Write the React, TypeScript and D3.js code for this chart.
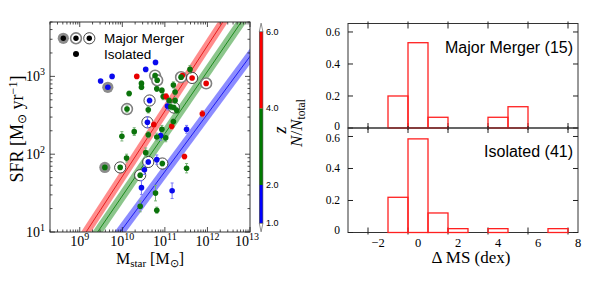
import React from "react";
import * as d3 from "d3";

// isolated galaxies: log10 stellar mass, log10 SFR, SFR error (dex), redshift
const isoLogM = [9.49, 9.76, 10.78, 10.55, 10.34, 10.45, 10.45, 10.16, 10.61, 10.61, 10.28, 9.99, 10.81, 10.93, 10.96, 11.06, 11.14, 11.2, 11.24, 11.41, 11.59, 11.88, 11.51, 11.16, 11.2, 10.93, 10.9, 10.81, 10.74, 11.02, 10.55, 10.1, 10.81, 10.52, 11.46, 11.51, 10.45, 10.78, 11.17, 10.42, 10.81, 11.03, 11.1, 11.24, 11.28];
const isoLogSfr = [2.94, 3.0, 3.18, 3.09, 3.0, 2.91, 2.86, 2.78, 2.57, 2.25, 2.29, 2.23, 2.84, 2.82, 2.74, 2.62, 2.61, 2.89, 2.8, 3.01, 3.09, 2.52, 2.32, 2.36, 2.42, 2.32, 2.24, 2.22, 2.38, 2.21, 2.02, 1.95, 1.93, 1.8, 1.97, 1.82, 1.57, 1.5, 1.53, 1.33, 1.28, 2.74, 2.69, 2.69, 2.56];
const isoErr = [0, 0, 0, 0, 0, 0.03, 0.03, 0.03, 0.04, 0.04, 0.05, 0.06, 0.03, 0.03, 0.04, 0.05, 0.04, 0.04, 0.04, 0.03, 0.05, 0.04, 0.05, 0.04, 0.04, 0.05, 0.06, 0.05, 0.04, 0.05, 0.06, 0.05, 0.06, 0.06, 0.03, 0.06, 0.09, 0.1, 0.1, 0.07, 0.04, 0.04, 0.04, 0.04, 0.04];
const isoZ = [1.6, 1.7, 1.5, 1.8, 4.6, 2.9, 3.1, 2.6, 3.3, 2.4, 2.7, 3.5, 2.8, 3.0, 2.5, 1.9, 3.2, 2.9, 3.4, 4.4, 3.6, 4.8, 1.7, 4.3, 2.6, 3.1, 1.8, 2.3, 4.5, 2.8, 2.2, 2.9, 1.6, 1.5, 4.2, 2.7, 1.4, 2.4, 1.6, 2.2, 2.1, 4.7, 3.0, 3.3, 2.6];

// major mergers: style A = grey disk, B = grey ring, C = black ring
const mrgLogM = [9.66, 10.11, 10.64, 10.59, 10.77, 10.82, 11.38, 11.64, 11.97, 9.59, 9.95, 10.61, 10.94, 10.42, 11.21];
const mrgLogSfr = [2.86, 2.58, 2.69, 2.41, 3.01, 2.95, 2.99, 2.98, 2.91, 1.83, 1.83, 1.9, 1.88, 1.73, 2.6];
const mrgErr = [0, 0.04, 0.03, 0.07, 0.03, 0.03, 0.03, 0.02, 0.02, 0.03, 0.02, 0.03, 0.03, 0.03, 0.03];
const mrgZ = [1.7, 2.6, 1.8, 1.6, 3.2, 2.8, 3.5, 4.6, 5.1, 2.4, 2.3, 1.5, 2.7, 2.5, 3.0];
const mrgStyle = ["A", "B", "C", "C", "B", "B", "B", "C", "B", "A", "C", "C", "C", "C", "C"];

// main sequence relations (red, green, blue): log SFR = slope * log M + intercept
const msSlope = [0.84, 0.8, 0.74];
const msIntercept = [-6.686, -6.536, -6.363];
const msColors = ["#e00000", "#007a00", "#0000ee"];
const msBand = ["#ff8080", "#7fc07f", "#7f7fff"];

// colorbar
const cbBounds = [1, 2, 4, 6];
const cbColors = ["#0000ff", "#007a00", "#ff0000"];
const cbLabels = ["1.0", "2.0", "4.0", "6.0"];

// histograms of Delta MS
const binCenters = [-3, -2, -1, 0, 1, 2, 3, 4, 5, 6, 7];
const mergerFrac = [0, 0, 0.2, 0.533, 0.067, 0, 0, 0.067, 0.133, 0, 0];
const isolatedFrac = [0, 0, 0.22, 0.585, 0.122, 0.024, 0, 0.024, 0, 0, 0.024];
const histTicks = [-2.5, -0.5, 1.5, 3.5, 5.5, 7.5];
const histLabels = [-2, 0, 2, 4, 6, 8];
const fracTicks = [0, 0.2, 0.4, 0.6];

const serif = "Liberation Serif, Times New Roman, serif";
const sans = "Liberation Sans, Arial, sans-serif";

const App = () => {
  const x = d3.scaleLog().domain([2e8, 1e13]).range([50, 250]);
  const y = d3.scaleLog().domain([10, 5000]).range([232, 22]);
  const zColor = d3.scaleThreshold<number, string>().domain([2, 4]).range(["#0a0aee", "#0b730b", "#e80000"]);
  const errColor = (z: number) => d3.interpolateRgb(zColor(z), "white")(0.45);

  const hx = d3.scaleLinear().domain([-3.5, 8]).range([348, 578]);
  const topY = d3.scaleLinear().domain([0, 0.653]).range([128, 23.5]);
  const botY = d3.scaleLinear().domain([0, 0.653]).range([232.5, 128]);
  const cb = d3.scaleLinear().domain(cbBounds).range([223.3, 185, 108.3, 31.7]);

  const [x0, x1] = x.range();
  const [y1, y0] = y.range();

  const logTicks = (lo: number, hi: number, dom: number[]) =>
    d3.range(lo, hi).flatMap(e => d3.range(1, 10).map(k => ({ v: k * 10 ** e, major: k === 1 })))
      .filter(t => t.v >= dom[0] && t.v <= dom[1]);
  const xt = logTicks(8, 14, x.domain());
  const yt = logTicks(1, 4, y.domain());

  const msX = [8, 13.5];
  const halfWidth = 0.1;
  const band = (i: number) =>
    d3.area<number>()
      .x(m => x(10 ** m))
      .y0(m => y(10 ** (msSlope[i] * m + msIntercept[i] - halfWidth)))
      .y1(m => y(10 ** (msSlope[i] * m + msIntercept[i] + halfWidth)))(msX);
  const msLine = (i: number) =>
    d3.line<number>().x(m => x(10 ** m)).y(m => y(10 ** (msSlope[i] * m + msIntercept[i])))(msX);

  const errBar = (m: number, s: number, e: number, z: number, key: string) => {
    if (!e) return null;
    const px = x(10 ** m);
    const c = errColor(z);
    return (
      <g key={key} stroke={c} strokeWidth={1}>
        <line x1={px} x2={px} y1={y(10 ** (s - e))} y2={y(10 ** (s + e))} />
        <line x1={px - 1.5} x2={px + 1.5} y1={y(10 ** (s - e))} y2={y(10 ** (s - e))} />
        <line x1={px - 1.5} x2={px + 1.5} y1={y(10 ** (s + e))} y2={y(10 ** (s + e))} />
      </g>
    );
  };

  const ring = (style: string, cx: number, cy: number, key: string) => {
    if (style === "A") return <circle key={key} cx={cx} cy={cy} r={5.6} fill="#8c8c8c" />;
    if (style === "B") return <circle key={key} cx={cx} cy={cy} r={5.4} fill="white" stroke="#808080" strokeWidth={1.6} />;
    return <circle key={key} cx={cx} cy={cy} r={5.6} fill="white" stroke="#1a1a1a" strokeWidth={0.8} />;
  };

  const histPanel = (frac: number[], ys: d3.ScaleLinear<number, number>, label: string, labelY: number, key: string, bottom: boolean) => {
    const [pb, pt] = ys.range();
    // nudge the two labels that meet at the shared edge apart a little
    const nudge = (t: number) => (bottom ? (t === 0 ? -3 : t === 0.6 ? 2 : 0) : t === 0 ? -2 : 0);
    return (
      <g key={key}>
        <rect x={hx(-3.5)} y={pt} width={hx(8) - hx(-3.5)} height={pb - pt} fill="none" stroke="#333" strokeWidth={1} />
        {histTicks.map(t => (
          <g key={t} stroke="#222" strokeWidth={1}>
            <line x1={hx(t)} x2={hx(t)} y1={pt - 2} y2={pt + 5} />
            <line x1={hx(t)} x2={hx(t)} y1={pb + 2} y2={pb - 5} />
          </g>
        ))}
        {fracTicks.map(t => (
          <g key={"f" + t}>
            <line x1={hx(-3.5)} x2={hx(-3.5) + 5} y1={ys(t)} y2={ys(t)} stroke="#222" />
            <line x1={hx(8)} x2={hx(8) - 5} y1={ys(t)} y2={ys(t)} stroke="#222" />
            <text x={340} y={ys(t) + nudge(t)} textAnchor="end" dominantBaseline="central"
              fontFamily={serif} fontSize={11.5}>{t === 0 ? "0" : t.toFixed(1)}</text>
          </g>
        ))}
        {binCenters.map((c, i) => (
          <rect key={"b" + i} x={hx(c - 0.5)} y={ys(frac[i])} width={hx(c + 0.5) - hx(c - 0.5)}
            height={ys(0) - ys(frac[i])} fill="none" stroke="#ff2020" strokeWidth={1.3} />
        ))}
        <text x={573} y={labelY} textAnchor="end" fontFamily={sans} fontSize={16}>{label}</text>
      </g>
    );
  };

  return (
    <svg width={598} height={288} style={{ position: "absolute", left: 0, top: 0, background: "white" }}>
      <defs>
        <clipPath id="left-clip">
          <rect x={x0} y={y0} width={x1 - x0} height={y1 - y0} />
        </clipPath>
      </defs>

      {/* main sequence bands */}
      <g clipPath="url(#left-clip)">
        {msSlope.map((_, i) => (
          <g key={"ms" + i}>
            <path d={band(i) || ""} fill={msBand[i]} opacity={0.9} />
            <path d={msLine(i) || ""} fill="none" stroke={msColors[i]} strokeWidth={0.8} />
          </g>
        ))}
      </g>

      {/* merger rings */}
      {mrgLogM.map((m, i) => ring(mrgStyle[i], x(10 ** m), y(10 ** mrgLogSfr[i]), "r" + i))}
      {/* error bars */}
      {isoLogM.map((m, i) => errBar(m, isoLogSfr[i], isoErr[i], isoZ[i], "ie" + i))}
      {mrgLogM.map((m, i) => errBar(m, mrgLogSfr[i], mrgErr[i], mrgZ[i], "me" + i))}
      {/* points */}
      {isoLogM.map((m, i) => (
        <circle key={"i" + i} cx={x(10 ** m)} cy={y(10 ** isoLogSfr[i])} r={2.8} fill={zColor(isoZ[i])} />
      ))}
      {mrgLogM.map((m, i) => (
        <circle key={"m" + i} cx={x(10 ** m)} cy={y(10 ** mrgLogSfr[i])} r={2.8} fill={zColor(mrgZ[i])} />
      ))}

      {/* left frame and ticks */}
      <rect x={x0} y={y0} width={x1 - x0} height={y1 - y0} fill="none" stroke="#333" strokeWidth={1} />
      {xt.map((t, i) => {
        const L = t.major ? 5 : 2.5;
        return (
          <g key={"xt" + i} stroke="#222" strokeWidth={0.8}>
            <line x1={x(t.v)} x2={x(t.v)} y1={y1} y2={y1 - L} />
            <line x1={x(t.v)} x2={x(t.v)} y1={y0} y2={y0 + L} />
          </g>
        );
      })}
      {yt.map((t, i) => {
        const L = t.major ? 5 : 2.5;
        return (
          <g key={"yt" + i} stroke="#222" strokeWidth={0.8}>
            <line x1={x0} x2={x0 + L} y1={y(t.v)} y2={y(t.v)} />
            <line x1={x1} x2={x1 - L} y1={y(t.v)} y2={y(t.v)} />
          </g>
        );
      })}
      {xt.filter(t => t.major).map(t => (
        <text key={"xl" + t.v} x={x(t.v) + (t.v === 1e13 ? -3 : 0)} y={246} textAnchor="middle" fontFamily={serif} fontSize={14}>
          10<tspan dy={-6} fontSize={10}>{Math.round(Math.log10(t.v))}</tspan>
        </text>
      ))}
      {yt.filter(t => t.major).map(t => (
        <text key={"yl" + t.v} x={45} y={y(t.v) + 4.5} textAnchor="end" fontFamily={serif} fontSize={14}>
          10<tspan dy={-6} fontSize={10}>{Math.round(Math.log10(t.v))}</tspan>
        </text>
      ))}

      {/* legend */}
      <circle cx={63.3} cy={38.3} r={5.6} fill="#8c8c8c" />
      <circle cx={63.3} cy={38.3} r={2.7} fill="black" />
      <circle cx={76} cy={38.3} r={5.4} fill="white" stroke="#808080" strokeWidth={1.6} />
      <circle cx={76} cy={38.3} r={2.7} fill="black" />
      <circle cx={89.3} cy={38.3} r={5.6} fill="white" stroke="#1a1a1a" strokeWidth={0.8} />
      <circle cx={89.3} cy={38.3} r={2.7} fill="black" />
      <circle cx={76} cy={54} r={3} fill="black" />
      <text x={104} y={43} fontFamily={sans} fontSize={13.5}>Major Merger</text>
      <text x={104} y={58.5} fontFamily={sans} fontSize={13.5}>Isolated</text>

      {/* axis labels */}
      <text x={150} y={264} textAnchor="middle" fontFamily={serif} fontSize={16}>
        M<tspan dy={3} fontSize={11}>star</tspan><tspan dy={-3}> [M</tspan><tspan dy={3} fontSize={11}>⊙</tspan><tspan dy={-3}>]</tspan>
      </text>
      <text transform="translate(23,129) rotate(-90)" textAnchor="middle" fontFamily={serif} fontSize={18}>
        SFR [M<tspan dy={3} fontSize={12}>⊙</tspan><tspan dy={-3}> yr</tspan><tspan dy={-6} fontSize={12}>−1</tspan><tspan dy={6}>]</tspan>
      </text>

      {/* colorbar */}
      {cbColors.map((c, i) => (
        <rect key={"cb" + i} x={259.3} y={cb(cbBounds[i + 1])} width={3.6} height={cb(cbBounds[i]) - cb(cbBounds[i + 1])} fill={c} />
      ))}
      <rect x={259.3} y={cb(6)} width={3.6} height={cb(1) - cb(6)} fill="none" stroke="#444" strokeWidth={0.6} />
      <path d={`M259.3,${cb(6)}L262.9,${cb(6)}L261.1,${cb(6) - 8.5}Z`} fill="white" stroke="#444" strokeWidth={0.6} />
      <path d={`M259.3,${cb(1)}L262.9,${cb(1)}L261.1,${cb(1) + 8.5}Z`} fill="white" stroke="#444" strokeWidth={0.6} />
      {cbBounds.map((b, i) => (
        <text key={"cbl" + b} x={266} y={cb(b)} dominantBaseline="central" fontFamily={sans} fontSize={9}>{cbLabels[i]}</text>
      ))}
      <text transform="translate(286,130) rotate(-90)" textAnchor="middle" fontFamily={serif} fontStyle="italic" fontSize={18}>z</text>

      {/* right panels */}
      {histPanel(mergerFrac, topY, "Major Merger (15)", 53, "top", false)}
      {histPanel(isolatedFrac, botY, "Isolated (41)", 157, "bot", true)}
      {histLabels.map(v => (
        <text key={"hl" + v} x={hx(v)} y={246.5} textAnchor="middle" fontFamily={serif} fontSize={12.5}>
          {v < 0 ? "−" + Math.abs(v) : v}
        </text>
      ))}
      <text transform="translate(302,123) rotate(-90)" textAnchor="middle" fontFamily={serif} fontSize={17}>
        <tspan fontStyle="italic">N</tspan>/<tspan fontStyle="italic">N</tspan><tspan dy={3} fontSize={11.5}>total</tspan>
      </text>
      <text x={471} y={263} textAnchor="middle" fontFamily={serif} fontSize={17}>Δ MS (dex)</text>
    </svg>
  );
};

export default App;
